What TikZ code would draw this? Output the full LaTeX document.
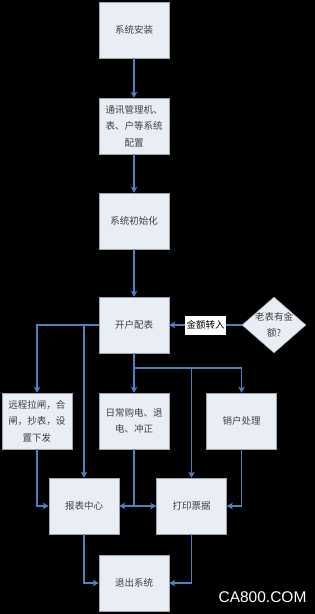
\documentclass[tikz,border=0pt]{standalone}
\usepackage{fontspec}
\newfontfamily\cjk{Noto Sans CJK SC}
\newfontfamily\wm{Liberation Sans}
\usetikzlibrary{shapes.geometric,arrows.meta}
\definecolor{boxfill}{HTML}{E9EDF4}
\definecolor{boxline}{HTML}{9AA3B0}
\definecolor{arrowblue}{HTML}{4F81BD}
\definecolor{txtgray}{HTML}{404040}
\tikzset{
  box/.style={draw=boxline, line width=0.5pt, fill=boxfill, minimum width=70pt, minimum height=56pt,
    inner sep=0pt, align=center, font=\cjk\fontsize{9.5}{16.5}\selectfont, text=txtgray},
  dia/.style={draw=boxline, line width=0.5pt, fill=boxfill, shape=diamond, minimum width=64pt,
    minimum height=56pt, inner sep=0pt},
  txt/.style={align=center, font=\cjk\fontsize{9.5}{16}\selectfont, text=txtgray, inner sep=0pt},
  arr/.style={draw=arrowblue, line width=1.6pt, -{Stealth[length=6pt,width=6.5pt,inset=1.5pt]}},
  ln/.style={draw=arrowblue, line width=1.6pt},
  tag/.style={fill=white, inner sep=1pt, minimum width=41pt, minimum height=19pt,
    font=\cjk\fontsize{9.5}{11}\selectfont, text=black}
}
\begin{document}
\begin{tikzpicture}[x=1pt,y=-1pt]
\fill[black] (0,0) rectangle (315,614);
\useasboundingbox (0,0) rectangle (315,614);

\node[box] (b1) at (134,30) {系统安装};
\node[box] (b2) at (134,126) {通讯管理机、\\表、户等系统\\配置};
\node[box] (b3) at (134,221) {系统初始化};
\node[box] (b4) at (134,325) {开户配表};
\node[dia] (dm) at (274,325) {};
\node[txt] (dmt) at (274,325) {老表有金\\额?};

\node[box] (r) at (37,421) {远程拉闸，合\\闸，抄表，设\\置下发};
\node[box] (d) at (134,421) {日常购电、退\\电、冲正};
\node[box] (x) at (241.5,421) {销户处理};

\node[box] (rep) at (84,506) {报表中心};
\node[box] (prt) at (191.5,506) {打印票据};
\node[box] (ex) at (134,583) {退出系统};

\draw[arr] (b1) -- (b2);
\draw[arr] (b2) -- (b3);
\draw[arr] (b3) -- (b4);
\draw[arr] (dm.west) -- (b4.east) node[tag, midway] (lab) {金额转入};

\draw[arr] (b4.west) -| (r.north);
\draw[arr] (b4.west -| rep.north) -- (rep.north);
\draw[arr] (b4.south) -- (d.north);
\coordinate (j1) at (134,368);
\draw[arr] (j1) -| (x.north);
\draw[arr] (j1 -| prt.north) -- (prt.north);

\draw[arr] (r.south) |- (rep.west);
\draw[arr] (d.south) |- (rep.east);
\draw[arr] (d.south) |- (prt.west);
\draw[arr] (x.south) |- (prt.east);
\draw[arr] (rep.south) |- (ex.west);
\draw[arr] (prt.south) |- (ex.east);

\node[text=white, font=\wm\fontsize{15.5}{16}\selectfont, inner sep=0pt] (wmk) at (262.5,597) {CA800.COM};
\end{tikzpicture}
\end{document}
